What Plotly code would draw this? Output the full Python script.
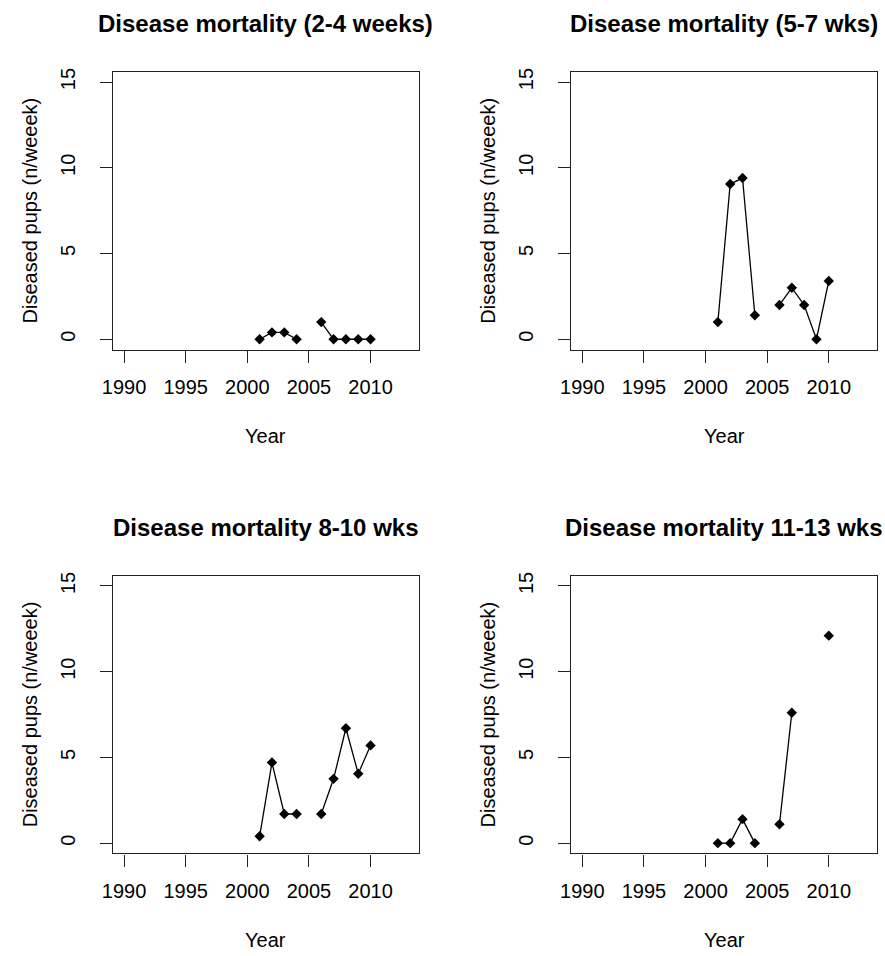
import plotly.graph_objs as go

years = [2001, 2002, 2003, 2004, 2005, 2006, 2007, 2008, 2009, 2010]

wk_2_4 = [0.0, 0.4, 0.4, 0.0, None, 1.0, 0.0, 0.0, 0.0, 0.0]
wk_5_7 = [1.0, 9.05, 9.4, 1.4, None, 2.0, 3.0, 2.0, 0.0, 3.4]
wk_8_10 = [0.4, 4.7, 1.7, 1.7, None, 1.7, 3.75, 6.7, 4.05, 5.7]
wk_11_13 = [0.0, 0.0, 1.4, 0.0, None, 1.1, 7.6, None, None, 12.1]

titles = ['Disease mortality (2-4 weeks)', 'Disease mortality (5-7 wks)',
          'Disease mortality 8-10 wks', 'Disease mortality 11-13 wks']
series = [wk_2_4, wk_5_7, wk_8_10, wk_11_13]

x_ticks = [1990, 1995, 2000, 2005, 2010]
y_ticks = [0, 5, 10, 15]
x_label = 'Year'
y_label = 'Diseased pups (n/weeek)'

W, H = 885, 956
# plot boxes in pixels: (left, right, top, bottom)
boxes = [(103, 413, 68, 347), (567, 877, 68, 347),
         (103, 413, 574, 853), (567, 877, 574, 853)]

font = 'Liberation Sans, Arial, sans-serif'

fig = go.Figure()
layout = dict(width=W, height=H, margin=dict(l=0, r=0, t=0, b=0),
              paper_bgcolor='white', plot_bgcolor='white', showlegend=False,
              font=dict(family=font, size=20, color='black'))
annotations = []

for i, (vals, title, box) in enumerate(zip(series, titles, boxes)):
    n = '' if i == 0 else str(i + 1)
    left, right, top, bottom = box
    fig.add_trace(go.Scatter(
        x=years, y=vals, mode='lines+markers', connectgaps=False,
        line=dict(color='black', width=1.3),
        marker=dict(symbol='diamond', size=8, color='black'),
        xaxis='x' + n, yaxis='y' + n))
    axis_common = dict(showline=True, linecolor='#222', linewidth=1.3, mirror=True,
                       showgrid=False, zeroline=False, ticks='outside',
                       ticklen=12, tickwidth=1.3, tickcolor='#222',
                       tickfont=dict(family=font, size=20, color='black'))
    layout['xaxis' + n] = dict(axis_common, domain=[left / W, right / W],
                               range=[1989.08, 2013.92], tickvals=x_ticks,
                               ticklabelstandoff=7, anchor='y' + n)
    layout['yaxis' + n] = dict(axis_common, domain=[1 - bottom / H, 1 - top / H],
                               range=[-0.6, 15.6], tickvals=y_ticks, tickangle=-90,
                               ticklabelstandoff=17, anchor='x' + n)
    cx = (left + right) / 2 / W
    annotations.append(dict(text='<b>' + title + '</b>', x=cx, y=1 - (top - 48) / H,
                            xref='paper', yref='paper', showarrow=False,
                            font=dict(family=font, size=24, color='black'),
                            xanchor='center', yanchor='middle'))
    annotations.append(dict(text=x_label, x=cx, y=1 - (bottom + 87) / H,
                            xref='paper', yref='paper', showarrow=False,
                            font=dict(family=font, size=20, color='black'),
                            xanchor='center', yanchor='middle'))
    annotations.append(dict(text=y_label, x=(left - 84) / W, y=1 - (top + bottom) / 2 / H,
                            xref='paper', yref='paper', showarrow=False, textangle=-90,
                            font=dict(family=font, size=20, color='black'),
                            xanchor='center', yanchor='middle'))

layout['annotations'] = annotations
fig.update_layout(**layout)

# drop the default page margin so the figure fills the window exactly
fig.write_html('out.html', config={'displayModeBar': False},
               post_script="document.body.style.margin='0';")
